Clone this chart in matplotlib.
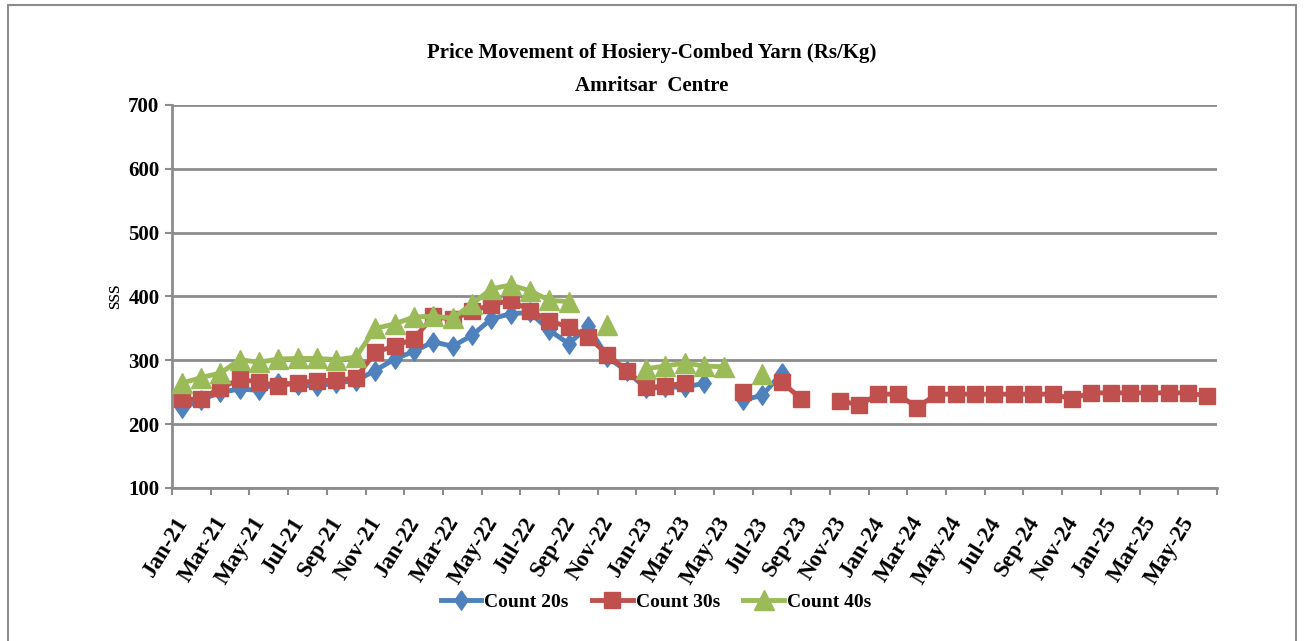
import numpy as np
import matplotlib
matplotlib.use("Agg")
import matplotlib.pyplot as plt
from matplotlib.patches import Rectangle
from matplotlib.transforms import ScaledTranslation

nan = np.nan

# Monthly categories Jan-21 .. Jun-25
months = ["Jan", "Feb", "Mar", "Apr", "May", "Jun", "Jul", "Aug", "Sep", "Oct", "Nov", "Dec"]
categories = [f"{m}-{y}" for y in range(21, 26) for m in months][:54]

count_20s = [
    225, 238, 250, 255, 253, 265, 262, 259, 265, 268, 284, 302,
    314, 329, 322, 339, 365, 373, 375, 347, 326, 353, 305, 283,
    256, 258, 258, 264, nan, 238, 245, 280, nan, nan, nan, nan,
    nan, nan, nan, nan, nan, nan, nan, nan, nan, nan, nan, nan,
    nan, nan, nan, nan, nan, nan,
]
count_30s = [
    239, 239, 257, 270, 266, 260, 265, 268, 269, 272, 313, 322,
    334, 369, 364, 377, 387, 394, 378, 362, 352, 337, 309, 284,
    258, 259, 265, nan, nan, 251, nan, 266, 240, nan, 237, 230,
    247, 247, 226, 247, 247, 247, 247, 247, 247, 247, 240, 249,
    249, 249, 249, 249, 249, 244,
]
count_40s = [
    264, 273, 280, 301, 297, 302, 303, 303, 301, 305, 350, 357,
    368, 369, 366, 388, 412, 418, 409, 394, 392, nan, 355, nan,
    287, 291, 296, 291, 290, nan, 278, nan, nan, nan, nan, nan,
    nan, nan, nan, nan, nan, nan, nan, nan, nan, nan, nan, nan,
    nan, nan, nan, nan, nan, nan,
]

yticks = [100, 200, 300, 400, 500, 600, 700]

serif = ["Liberation Serif", "DejaVu Serif"]
plt.rcParams["font.family"] = serif
plt.rcParams["font.weight"] = "bold"

fig = plt.figure(figsize=(13.04, 6.41), dpi=100)
fig.patch.set_facecolor("white")

# chart-area border
fig.patches.append(Rectangle((0.006, -0.02), 0.988, 1.012, transform=fig.transFigure,
                             fill=False, edgecolor="#8c8c8c", linewidth=1.5))

ax = fig.add_axes([0.1319, 0.2387, 0.8014, 0.5975])
x = np.arange(len(categories))

# tall diamond, like the stretched Excel marker
tall_diamond = [(0, 1.45), (1, 0), (0, -1.45), (-1, 0), (0, 1.45)]

grid_c = "#8c8c8c"
ax.plot(x, count_20s, color="#4F81BD", marker=tall_diamond, markersize=14, linewidth=3.5,
        label="Count 20s", zorder=3)
ax.plot(x, count_30s, color="#C0504D", marker="s", markersize=11, linewidth=3.5,
        label="Count 30s", zorder=4)
ax.plot(x, count_40s, color="#9BBB59", marker="^", markersize=14, linewidth=3.5,
        label="Count 40s", zorder=5)

ax.set_xlim(-0.5, len(categories) - 0.5)
ax.set_ylim(100, 700)
ax.set_yticks(yticks)
ax.yaxis.grid(True, color=grid_c, linewidth=2)
ax.set_axisbelow(True)
for s in ("top", "right"):
    ax.spines[s].set_visible(False)
for s in ("left", "bottom"):
    ax.spines[s].set_color(grid_c)
    ax.spines[s].set_linewidth(2)

ax.tick_params(axis="y", colors=grid_c, length=5, width=1.5, labelcolor="black",
               labelsize=15, pad=4)

# tick marks at category boundaries every 2 months, labels at centres
ax.set_xticks(np.arange(-0.5, len(categories), 2))
ax.set_xticklabels([])
ax.tick_params(axis="x", which="major", colors=grid_c, length=5, width=1.5)
ax.set_xticks(x[::2], minor=True)
ax.set_xticklabels(categories[::2], minor=True, rotation=58, ha="right",
                   va="center", rotation_mode="anchor", fontsize=16.5)
ax.tick_params(axis="x", which="minor", length=0, pad=22, labelcolor="black")
shift = ScaledTranslation(2 / 100, 0, fig.dpi_scale_trans)
for lbl in ax.get_xticklabels(minor=True):
    lbl.set_transform(lbl.get_transform() + shift)

ax.set_ylabel("sss", fontsize=16, labelpad=3)

fig.text(0.5, 0.918, "Price Movement of Hosiery-Combed Yarn (Rs/Kg)", ha="center",
         va="center", fontsize=15)
fig.text(0.5, 0.866, "Amritsar  Centre", ha="center", va="center", fontsize=15)

fig.legend(loc="center", bbox_to_anchor=(0.503, 0.061), ncol=3, frameon=False,
           fontsize=14, handlelength=2.1, handletextpad=0.15, columnspacing=1.2,
           markerscale=1.0)

fig.savefig("out.png", dpi=100)
